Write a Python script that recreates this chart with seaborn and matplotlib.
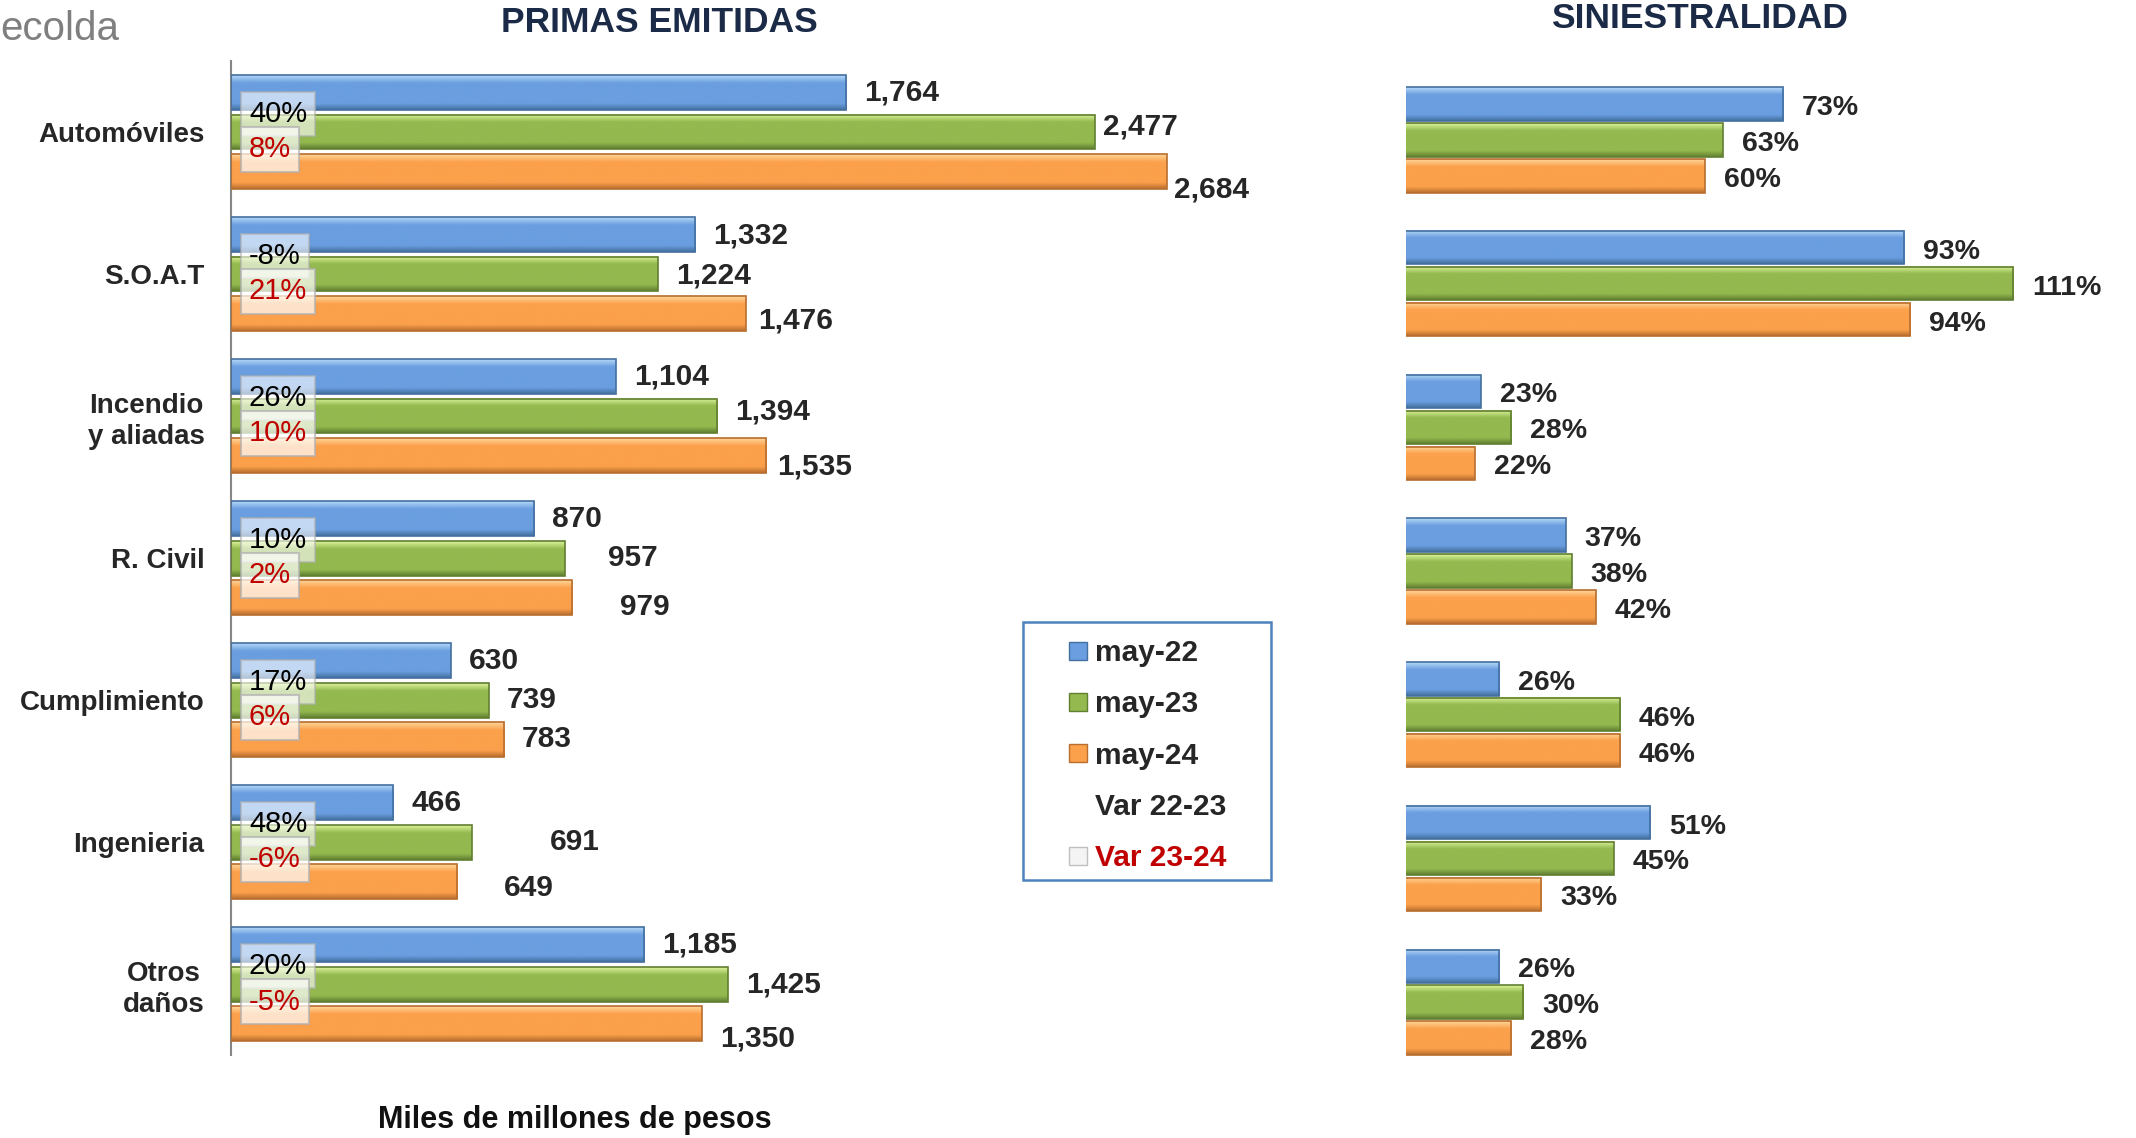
import numpy as np
import pandas as pd
import seaborn as sns
import matplotlib.pyplot as plt
from matplotlib.colors import LinearSegmentedColormap
from matplotlib.lines import Line2D
from matplotlib.patches import Rectangle

# ---------------------- DATA ----------------------
ramos = ["Automóviles", "S.O.A.T", "Incendio\ny aliadas", "R. Civil",
         "Cumplimiento", "Ingenieria", "Otros\ndaños"]
periodos = ["may-22", "may-23", "may-24"]

primas_may22 = [1764, 1332, 1104, 870, 630, 466, 1185]
primas_may23 = [2477, 1224, 1394, 957, 739, 691, 1425]
primas_may24 = [2684, 1476, 1535, 979, 783, 649, 1350]

sinies_may22 = [73, 93, 23, 37, 26, 51, 26]
sinies_may23 = [63, 111, 28, 38, 46, 45, 30]
sinies_may24 = [60, 94, 22, 42, 46, 33, 28]

var_22_23 = [40, -8, 26, 10, 17, 48, 20]
var_23_24 = [8, 21, 10, 2, 6, -6, -5]

# ---------------------- STYLE ----------------------
sns.set_style("white")
plt.rcParams['font.family'] = ['Liberation Sans', 'DejaVu Sans']
NARROW = ['Liberation Sans Narrow', 'Liberation Sans', 'DejaVu Sans']

base = {"may-22": "#6a9ee0", "may-23": "#93b94f", "may-24": "#fba04b"}
light = {"may-22": "#b4d8f8", "may-23": "#dcf39a", "may-24": "#ffd69a"}
dark = {"may-22": "#44709f", "may-23": "#617f31", "may-24": "#b86e2e"}

# manual label nudges (pixels) for the primas chart, [ramo][periodo]
nudge_x = [[0, -10, -11], [0, 0, -5], [0, 0, -7], [0, 25, 30],
           [0, 0, 0], [0, 60, 29], [0, 0, 0]]
nudge_y = [[0, -5, 18], [1, 1, 7], [0, -5, 11], [0, 0, 10],
           [0, 0, 0], [0, 0, 7], [0, 0, 15]]


def long_df(a, b, c):
    return pd.DataFrame({
        "ramo": ramos * 3,
        "periodo": np.repeat(periodos, len(ramos)),
        "valor": a + b + c,
    })


primas = long_df(primas_may22, primas_may23, primas_may24)
sinies = long_df(sinies_may22, sinies_may23, sinies_may24)


def bevel(ax):
    # excel-like shaded bars
    for h, cont in enumerate(ax.containers):
        p = periodos[h]
        cmap = LinearSegmentedColormap.from_list(
            p, [(0, light[p]), (0.22, base[p]), (0.82, base[p]), (1, dark[p])])
        for bar in cont:
            x0, y0 = bar.get_x(), bar.get_y()
            w, hh = bar.get_width(), bar.get_height()
            ax.imshow(np.linspace(0, 1, 64).reshape(-1, 1), cmap=cmap,
                      extent=(x0, x0 + w, y0 + hh, y0), origin='upper',
                      aspect='auto', interpolation='bicubic', zorder=2)
            bar.set_facecolor('none')
            bar.set_edgecolor(dark[p])
            bar.set_linewidth(1.2)
            bar.set_zorder(3)


fig = plt.figure(figsize=(21.36, 11.38), dpi=100)
ax1 = fig.add_axes([0.1081, 0.0729, 0.5005, 0.8735])
ax2 = fig.add_axes([0.6582, 0.0562, 0.3343, 0.884])

# ---------------------- PRIMAS EMITIDAS ----------------------
sns.barplot(data=primas, y="ramo", x="valor", hue="periodo", hue_order=periodos,
            palette=base, orient="h", width=0.83, gap=0.11, errorbar=None,
            legend=False, ax=ax1)

vals1 = [primas_may22, primas_may23, primas_may24]
for h, cont in enumerate(ax1.containers):
    for i, bar in enumerate(cont):
        ax1.annotate(f"{vals1[h][i]:,}",
                     xy=(bar.get_width(), bar.get_y() + bar.get_height() / 2),
                     xytext=(18 + nudge_x[i][h], -nudge_y[i][h]),
                     textcoords='offset pixels', ha='left', va='center',
                     fontsize=21.5, fontweight='bold', annotation_clip=False)
bevel(ax1)

for i in range(len(ramos)):
    ax1.annotate(f"{var_22_23[i]}%", xy=(0, i - 0.128), xytext=(18, 0),
                 textcoords='offset pixels', ha='left', va='center',
                 fontsize=21, color='black', annotation_clip=False, zorder=5,
                 bbox=dict(boxstyle='square,pad=0.28', fc='white', ec='#b0b0b0',
                           lw=1.5, alpha=0.6))
    ax1.annotate(f"{var_23_24[i]}%", xy=(0, i + 0.123), xytext=(18, 0),
                 textcoords='offset pixels', ha='left', va='center',
                 fontsize=21, color='#c00000', annotation_clip=False, zorder=6,
                 bbox=dict(boxstyle='square,pad=0.28', fc='white', ec='#b0b0b0',
                           lw=1.5, alpha=0.7))

ax1.set_xlim(0, 3066)
ax1.set_ylim(6.5, -0.5)
ax1.set_xticks([])
ax1.set_yticks(range(len(ramos)))
ax1.set_yticklabels(ramos, fontsize=20, fontweight='bold', linespacing=1.25)
for lbl in ax1.get_yticklabels():
    lbl.set_multialignment('center')
ax1.set_yticks(np.arange(-0.5, len(ramos), 1), minor=True)
ax1.tick_params(axis='y', which='major', length=0, pad=19)
ax1.tick_params(axis='y', which='minor', length=8, width=1.5,
                color='#868686', direction='out')
ax1.set_xlabel("")
ax1.set_ylabel("")
for s in ['top', 'right', 'bottom']:
    ax1.spines[s].set_visible(False)
ax1.spines['left'].set_color('#868686')
ax1.spines['left'].set_linewidth(1.5)

# ---------------------- SINIESTRALIDAD ----------------------
sns.barplot(data=sinies, y="ramo", x="valor", hue="periodo", hue_order=periodos,
            palette=base, orient="h", width=0.75, gap=0.07, errorbar=None,
            legend=False, ax=ax2)

vals2 = [sinies_may22, sinies_may23, sinies_may24]
for h, cont in enumerate(ax2.containers):
    for i, bar in enumerate(cont):
        ax2.annotate(f"{vals2[h][i]}%",
                     xy=(bar.get_width(), bar.get_y() + bar.get_height() / 2),
                     xytext=(19, -4), textcoords='offset pixels',
                     ha='left', va='center', fontsize=20.5, fontweight='bold',
                     annotation_clip=False)
bevel(ax2)

ax2.set_xlim(10.6, 128.7)
ax2.set_ylim(6.5, -0.5)
ax2.set_xticks([])
ax2.set_yticks([])
ax2.set_xlabel("")
ax2.set_ylabel("")
for s in ax2.spines.values():
    s.set_visible(False)

# ---------------------- LEGEND ----------------------
msize = 13
handles = [Line2D([], [], marker='s', ls='none', markersize=msize,
                  markerfacecolor=base[p], markeredgecolor=dark[p])
           for p in periodos]
handles.append(Line2D([], [], marker='s', ls='none', markersize=msize,
                      markerfacecolor='none', markeredgecolor='none'))
handles.append(Line2D([], [], marker='s', ls='none', markersize=msize,
                      markerfacecolor='#f4f4f4', markeredgecolor='#c0c0c0'))
leg = fig.legend(handles, periodos + ["Var 22-23", "Var 23-24"],
                 loc='upper left', bbox_to_anchor=(0.5005, 0.4385),
                 frameon=False, prop=dict(size=21.5, weight='bold'),
                 handlelength=0.6, handletextpad=0.27, labelspacing=0.78,
                 borderpad=0, borderaxespad=0)
leg.get_texts()[-1].set_color('#c00000')
fig.add_artist(Rectangle((1023 / 2136, 1 - 880 / 1138), 248 / 2136, 258 / 1138,
                         transform=fig.transFigure, fill=False,
                         edgecolor='#4f81bd', linewidth=1.8))

# ---------------------- TEXTS ----------------------
fig.text(659 / 2136, 1 - 23 / 1138, "PRIMAS EMITIDAS", ha='center', va='center',
         fontsize=25.5, fontweight='bold', color='#1b2a47', family=NARROW)
fig.text(1700 / 2136, 1 - 18 / 1138, "SINIESTRALIDAD", ha='center', va='center',
         fontsize=25.5, fontweight='bold', color='#1b2a47', family=NARROW)
fig.text(575 / 2136, 1 - 1120 / 1138, "Miles de millones de pesos", ha='center',
         va='center', fontsize=22, fontweight='bold', color='#111111', family=NARROW)
fig.text(0.0, 1 - 29 / 1138, "ecolda", ha='left', va='center',
         fontsize=29, color='#7f7f7f')

fig.savefig("out.png", dpi=100)
plt.close()
